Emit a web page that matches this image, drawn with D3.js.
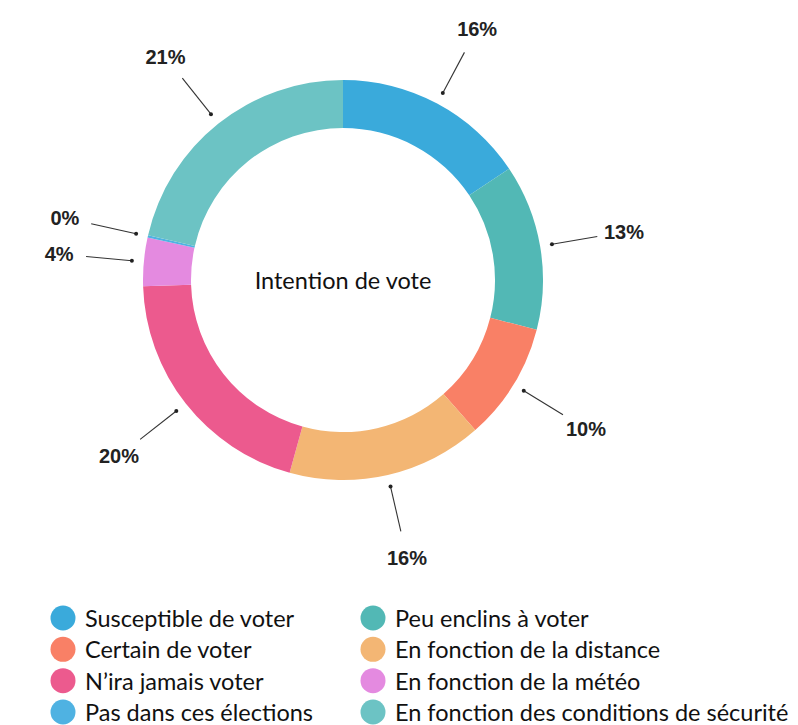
<!DOCTYPE html>
<html>
<head>
<meta charset="utf-8">
<script src="https://cdn.jsdelivr.net/npm/d3@7"></script>
<style>
  html, body { margin: 0; padding: 0; background: #fff; }
  svg { display: block; }
</style>
</head>
<body>
<div id="chart"></div>
<script>
// Slices in drawing order, clockwise from 12 o'clock
const categories = [
  'Susceptible de voter',
  'Peu enclins à voter',
  'Certain de voter',
  'En fonction de la distance',
  "N’ira jamais voter",
  'En fonction de la météo',
  'Pas dans ces élections',
  'En fonction des conditions de sécurité'
];
const values = [15.6, 13.4, 9.5, 15.8, 20.2, 3.9, 0.2, 21.4];
const colors = ['#3aaadb', '#52b8b5', '#f98066', '#f3b674', '#ec5a8e', '#e48ae0', '#4fb2e2', '#6cc3c4'];

// Legend layout: two columns, read down
const legendCol1 = ['Susceptible de voter', 'Certain de voter', "N’ira jamais voter", 'Pas dans ces élections'];
const legendCol2 = ['Peu enclins à voter', 'En fonction de la distance', 'En fonction de la météo', 'En fonction des conditions de sécurité'];

const width = 798, height = 725;
const cx = 343, cy = 280;
const outerR = 200, innerR = 152;

const svg = d3.select('#chart').append('svg')
    .attr('width', width)
    .attr('height', height);

const color = d3.scaleOrdinal().domain(categories).range(colors);

const data = categories.map((c, i) => ({name: c, value: values[i]}));
const total = d3.sum(values);

const pie = d3.pie().sort(null).value(d => d.value);
const arcs = pie(data);

const arc = d3.arc().innerRadius(innerR).outerRadius(outerR);
const dotArc = d3.arc().innerRadius(212).outerRadius(212);
const lineArc = d3.arc().innerRadius(258).outerRadius(258);
const textArc = d3.arc().innerRadius(285).outerRadius(285);

const g = svg.append('g').attr('transform', `translate(${cx},${cy})`);

g.selectAll('path.slice')
  .data(arcs)
  .join('path')
    .attr('class', 'slice')
    .attr('d', arc)
    .attr('fill', d => color(d.data.name));

// leader lines + dots
g.selectAll('line.leader')
  .data(arcs)
  .join('line')
    .attr('class', 'leader')
    .attr('x1', d => dotArc.centroid(d)[0])
    .attr('y1', d => dotArc.centroid(d)[1])
    .attr('x2', d => lineArc.centroid(d)[0])
    .attr('y2', d => lineArc.centroid(d)[1])
    .attr('stroke', '#333')
    .attr('stroke-width', 1.1);

g.selectAll('circle.dot')
  .data(arcs)
  .join('circle')
    .attr('class', 'dot')
    .attr('cx', d => dotArc.centroid(d)[0])
    .attr('cy', d => dotArc.centroid(d)[1])
    .attr('r', 2)
    .attr('fill', '#222');

g.selectAll('text.pct')
  .data(arcs)
  .join('text')
    .attr('class', 'pct')
    .attr('x', d => textArc.centroid(d)[0])
    .attr('y', d => textArc.centroid(d)[1])
    .attr('text-anchor', 'middle')
    .attr('dominant-baseline', 'central')
    .attr('font-family', 'Liberation Sans, Arial, Helvetica, sans-serif')
    .attr('font-weight', 'bold')
    .attr('font-size', 20)
    .attr('fill', '#222')
    .text(d => Math.round(d.data.value / total * 100) + '%');

// centre title
g.append('text')
    .attr('text-anchor', 'middle')
    .attr('dominant-baseline', 'central')
    .attr('font-family', 'Lato, Open Sans, sans-serif')
    .attr('font-size', 23.5)
    .attr('fill', '#111')
    .text('Intention de vote');

// legend
const legend = svg.append('g');
const rowY = d3.scalePoint().domain(d3.range(4)).range([618, 712]);
const columns = [{x: 63, items: legendCol1}, {x: 373, items: legendCol2}];

columns.forEach(col => {
  const rows = legend.append('g')
    .selectAll('g')
    .data(col.items)
    .join('g')
      .attr('transform', (d, i) => `translate(${col.x},${rowY(i)})`);

  rows.append('circle')
      .attr('r', 12.5)
      .attr('fill', d => color(d));

  rows.append('text')
      .attr('x', 22)
      .attr('dominant-baseline', 'central')
      .attr('font-family', 'Lato, Open Sans, sans-serif')
      .attr('font-size', 23.5)
      .attr('fill', '#111')
      .text(d => d);
});
</script>
</body>
</html>
